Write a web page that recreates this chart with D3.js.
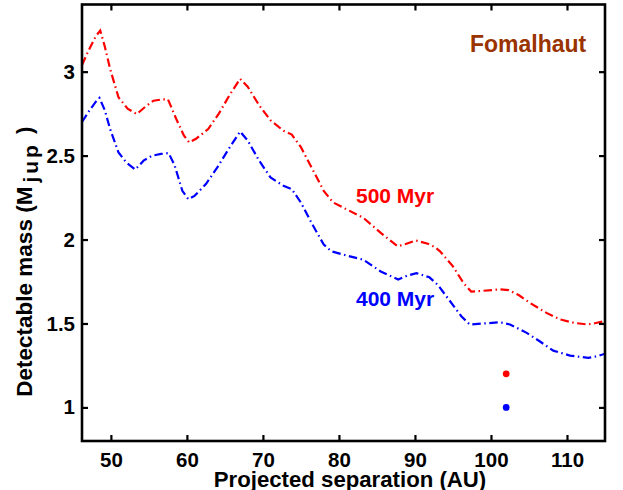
<!DOCTYPE html>
<html>
<head>
<meta charset="utf-8">
<script src="https://cdn.jsdelivr.net/npm/d3@7"></script>
<style>
  html, body { margin: 0; padding: 0; background: #fff; }
  svg { display: block; }
  text { font-family: "Liberation Sans", Arial, Helvetica, sans-serif; font-weight: bold; }
</style>
</head>
<body>
<svg id="chart" width="623" height="490"></svg>
<script>
// ---- Data ----
const xTicks = [50, 60, 70, 80, 90, 100, 110];
const yTicks = [1, 1.5, 2, 2.5, 3];
const yTickLabels = ["1", "1.5", "2", "2.5", "3"];

const sep500 = [46.2, 47.0, 48.0, 48.6, 49.2, 49.9, 51.0, 52.2, 53.4, 54.5, 55.6, 56.8, 57.5, 58.6, 59.6, 60.3, 61.2, 62.8, 64.2, 65.6, 67.0, 68.0, 69.5, 71.0, 72.7, 73.8, 75.0, 76.5, 78.0, 79.2, 81.0, 83.2, 85.5, 87.7, 88.7, 90.1, 91.7, 92.6, 93.3, 95.0, 96.4, 97.4, 99.0, 101.2, 102.3, 103.7, 105.1, 107.3, 109.1, 111.0, 112.7, 113.8, 115.0];
const mass500 = [3.04, 3.12, 3.21, 3.245, 3.15, 3.016, 2.847, 2.78, 2.747, 2.79, 2.827, 2.835, 2.836, 2.718, 2.62, 2.578, 2.60, 2.658, 2.75, 2.86, 2.957, 2.91, 2.80, 2.71, 2.648, 2.625, 2.55, 2.42, 2.29, 2.222, 2.18, 2.13, 2.04, 1.96, 1.972, 1.995, 1.975, 1.955, 1.93, 1.84, 1.74, 1.69, 1.695, 1.703, 1.699, 1.668, 1.623, 1.563, 1.524, 1.503, 1.494, 1.503, 1.515];

const sep400 = [46.2, 47.2, 48.0, 48.5, 49.2, 49.9, 51.0, 52.0, 53.2, 54.3, 55.4, 56.6, 57.6, 58.4, 59.4, 60.2, 61.0, 62.5, 64.0, 65.5, 67.0, 68.0, 69.5, 71.0, 72.7, 73.8, 75.0, 76.5, 78.0, 79.0, 81.0, 83.2, 85.5, 87.8, 89.0, 90.2, 91.9, 93.0, 94.5, 96.1, 97.2, 99.0, 101.2, 102.5, 104.7, 106.4, 108.2, 110.4, 112.8, 114.0, 115.0];
const mass400 = [2.70, 2.77, 2.82, 2.843, 2.77, 2.658, 2.519, 2.46, 2.417, 2.47, 2.499, 2.51, 2.515, 2.44, 2.29, 2.24, 2.26, 2.33, 2.43, 2.54, 2.643, 2.59, 2.47, 2.37, 2.32, 2.30, 2.22, 2.09, 1.97, 1.93, 1.905, 1.88, 1.81, 1.762, 1.785, 1.80, 1.775, 1.73, 1.64, 1.543, 1.494, 1.50, 1.507, 1.494, 1.444, 1.394, 1.338, 1.309, 1.295, 1.305, 1.32];

const pointSep = [102, 102];
const pointMass = [1.2, 1.0];
const pointColors = ["#ff0000", "#0000ff"];

const seriesNames = ["500 Myr", "400 Myr"];
const seriesColors = ["#ff0000", "#0000ff"];

// ---- Layout ----
const svg = d3.select("#chart");
const mLeft = 82, mRight = 605, mTop = 4.5, mBottom = 441;
const x = d3.scaleLinear().domain([46.2, 115]).range([mLeft, mRight]);
const y = d3.scaleLinear().domain([0.8, 3.4]).range([mBottom, mTop]);

const font = '"Liberation Sans", Arial, Helvetica, sans-serif';

// lines
const line = d3.line().x(d => x(d[0])).y(d => y(d[1]));
const series = [
  { xs: sep500, ys: mass500, color: seriesColors[0] },
  { xs: sep400, ys: mass400, color: seriesColors[1] }
];
svg.append("clipPath").attr("id", "clip")
  .append("rect").attr("x", mLeft).attr("y", mTop).attr("width", mRight - mLeft).attr("height", mBottom - mTop);

const plot = svg.append("g").attr("clip-path", "url(#clip)");
series.forEach(s => {
  plot.append("path")
    .datum(s.xs.map((v, i) => [v, s.ys[i]]))
    .attr("d", line)
    .attr("fill", "none")
    .attr("stroke", s.color)
    .attr("stroke-width", 2.2)
    .attr("stroke-dasharray", "8.5,3.5,1.5,3.5");
});

// points
plot.selectAll("circle.pt")
  .data(pointSep.map((v, i) => ({ x: v, y: pointMass[i], c: pointColors[i] })))
  .enter().append("circle")
  .attr("cx", d => x(d.x)).attr("cy", d => y(d.y)).attr("r", 3.4)
  .attr("fill", d => d.c);

// axes (ticks inward on all four sides)
const tickLen = 6;
const axB = svg.append("g").attr("transform", `translate(0,${mBottom})`)
  .call(d3.axisBottom(x).tickValues(xTicks).tickSize(-tickLen).tickPadding(12).tickFormat(d3.format("d")));
const axT = svg.append("g").attr("transform", `translate(0,${mTop})`)
  .call(d3.axisTop(x).tickValues(xTicks).tickSize(-tickLen).tickFormat(""));
const axL = svg.append("g").attr("transform", `translate(${mLeft},0)`)
  .call(d3.axisLeft(y).tickValues(yTicks).tickSize(-tickLen).tickPadding(7).tickFormat((d, i) => yTickLabels[i]));
const axR = svg.append("g").attr("transform", `translate(${mRight},0)`)
  .call(d3.axisRight(y).tickValues(yTicks).tickSize(-tickLen).tickFormat(""));

[axB, axT, axL, axR].forEach(a => {
  a.select(".domain").remove();
  a.selectAll(".tick line").attr("stroke", "#000").attr("stroke-width", 2.2);
  a.selectAll("text").attr("fill", "#000").style("font-size", "20.5px")
    .style("font-family", font).style("font-weight", "bold");
});
axB.selectAll("text").attr("dy", null).attr("y", 25.5);

// box
svg.append("rect")
  .attr("x", mLeft).attr("y", mTop).attr("width", mRight - mLeft).attr("height", mBottom - mTop)
  .attr("fill", "none").attr("stroke", "#000").attr("stroke-width", 2.6);

// axis labels
svg.append("text")
  .attr("x", 350).attr("y", 487)
  .attr("text-anchor", "middle")
  .style("font-size", "22.2px")
  .text("Projected separation (AU)");

const yl = svg.append("text")
  .attr("transform", "translate(31.7,396.7) rotate(-90)")
  .attr("text-anchor", "start")
  .style("font-size", "22.5px");
yl.append("tspan").text("Detectable mass (M");
yl.append("tspan").attr("dx", 4).attr("dy", 6).style("font-size", "21px").style("letter-spacing", "3px").text("jup");
yl.append("tspan").attr("dx", 8).attr("dy", -6).text(")");

// annotations
svg.append("text").attr("x", 470).attr("y", 52.3)
  .attr("fill", "#993300").style("font-size", "23px").text("Fomalhaut");
svg.append("text").attr("x", 356).attr("y", 203.3)
  .attr("fill", seriesColors[0]).style("font-size", "21px").text(seriesNames[0]);
svg.append("text").attr("x", 356).attr("y", 305.8)
  .attr("fill", seriesColors[1]).style("font-size", "21px").text(seriesNames[1]);
</script>
</body>
</html>
